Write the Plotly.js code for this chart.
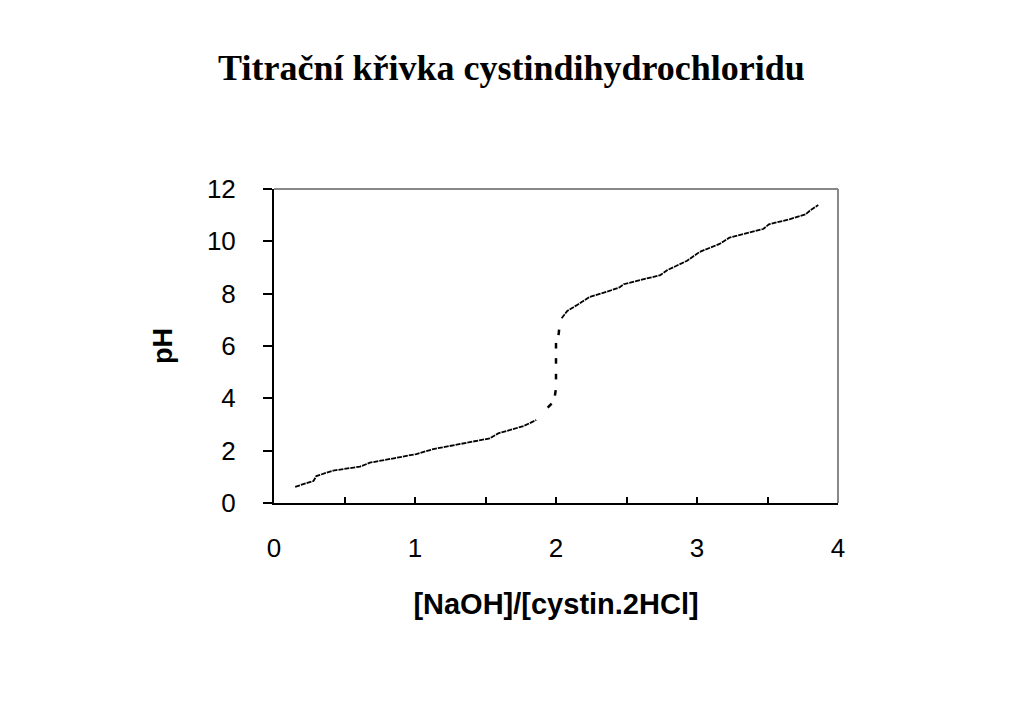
<!DOCTYPE html>
<html>
<head>
<meta charset="utf-8">
<script src="https://cdn.plot.ly/plotly-3.0.1.min.js"></script>
<style>html,body{margin:0;padding:0;background:#fff;}#chart{width:1023px;height:708px;}</style>
</head>
<body>
<div id="chart"></div>
<script>
// Lower branch (before first equivalence)
var lowX = [0.15, 0.28, 0.30, 0.42, 0.61, 0.68, 0.85, 1.01, 1.13, 1.34, 1.53, 1.59, 1.77, 1.86];
var lowY = [0.62, 0.84, 1.03, 1.24, 1.39, 1.54, 1.71, 1.87, 2.06, 2.28, 2.47, 2.66, 2.94, 3.17];
// Steep jump region (individual measured points)
var jumpX = [1.955, 1.995, 2.00, 2.00, 2.00, 2.02];
var jumpY = [3.72, 4.21, 4.83, 5.43, 6.01, 6.52];
var jumpAngle = [45, 8, 0, 0, 0, 6];
// Upper branch
var highX = [2.04, 2.08, 2.15, 2.24, 2.36, 2.45, 2.48, 2.64, 2.74, 2.79, 2.93, 3.02, 3.16, 3.23, 3.35, 3.47, 3.51, 3.66, 3.77, 3.80, 3.86];
var highY = [7.06, 7.34, 7.57, 7.88, 8.07, 8.24, 8.36, 8.56, 8.71, 8.90, 9.26, 9.60, 9.90, 10.14, 10.30, 10.47, 10.65, 10.85, 11.03, 11.17, 11.39];

var xTickVals = [0, 0.5, 1, 1.5, 2, 2.5, 3, 3.5, 4];
var xTickText = ['0', '', '1', '', '2', '', '3', '', '4'];
var yTickVals = [0, 2, 4, 6, 8, 10, 12];

var traces = [
  {x: lowX, y: lowY, mode: 'lines', line: {color: '#000', width: 1.8, dash: '5px,1px'}},
  {x: jumpX, y: jumpY, mode: 'markers', marker: {symbol: 'line-ns-open', size: 4, angle: jumpAngle, color: '#000', line: {color: '#000', width: 2.5}}},
  {x: highX, y: highY, mode: 'lines', line: {color: '#000', width: 1.8, dash: '5px,1px'}}
];

var sans = 'Liberation Sans, Arial, sans-serif';
var layout = {
  width: 1023, height: 708,
  paper_bgcolor: '#fff', plot_bgcolor: '#fff',
  showlegend: false,
  margin: {l: 274, r: 185, t: 189, b: 205},
  title: {text: 'Titrační křivka cystindihydrochloridu', x: 0.5, xanchor: 'center', y: 0.905, yanchor: 'middle',
          font: {family: 'Liberation Serif, Times New Roman, serif', size: 36, color: '#000', weight: 'bold'}},
  xaxis: {
    range: [0, 4], showgrid: false, zeroline: false,
    showline: true, linecolor: '#000', linewidth: 2, mirror: false,
    tickmode: 'array', tickvals: xTickVals, ticktext: xTickText,
    ticks: 'inside', ticklen: 6, tickwidth: 2, tickcolor: '#000',
    ticklabelstandoff: 21,
    tickfont: {family: sans, size: 26, color: '#000'},
    title: {text: '[NaOH]/[cystin.2HCl]', standoff: 31,
            font: {family: sans, size: 29, color: '#000', weight: 'bold'}}
  },
  yaxis: {
    range: [0, 12], showgrid: false, zeroline: false,
    showline: true, linecolor: '#000', linewidth: 2, mirror: false,
    tickmode: 'array', tickvals: yTickVals,
    ticks: 'outside', ticklen: 9, tickwidth: 2, tickcolor: '#000',
    ticklabelstandoff: 22,
    tickfont: {family: sans, size: 26, color: '#000'},
    title: {text: 'pH', standoff: 26,
            font: {family: sans, size: 27, color: '#000', weight: 'bold'}}
  },
  shapes: [
    {type: 'line', xref: 'paper', yref: 'paper', x0: 0, x1: 1, y0: 1, y1: 1, line: {color: '#888', width: 2}},
    {type: 'line', xref: 'paper', yref: 'paper', x0: 1, x1: 1, y0: 0, y1: 1, line: {color: '#888', width: 2}}
  ]
};

Plotly.newPlot('chart', traces, layout, {displayModeBar: false, staticPlot: true});
</script>
</body>
</html>
